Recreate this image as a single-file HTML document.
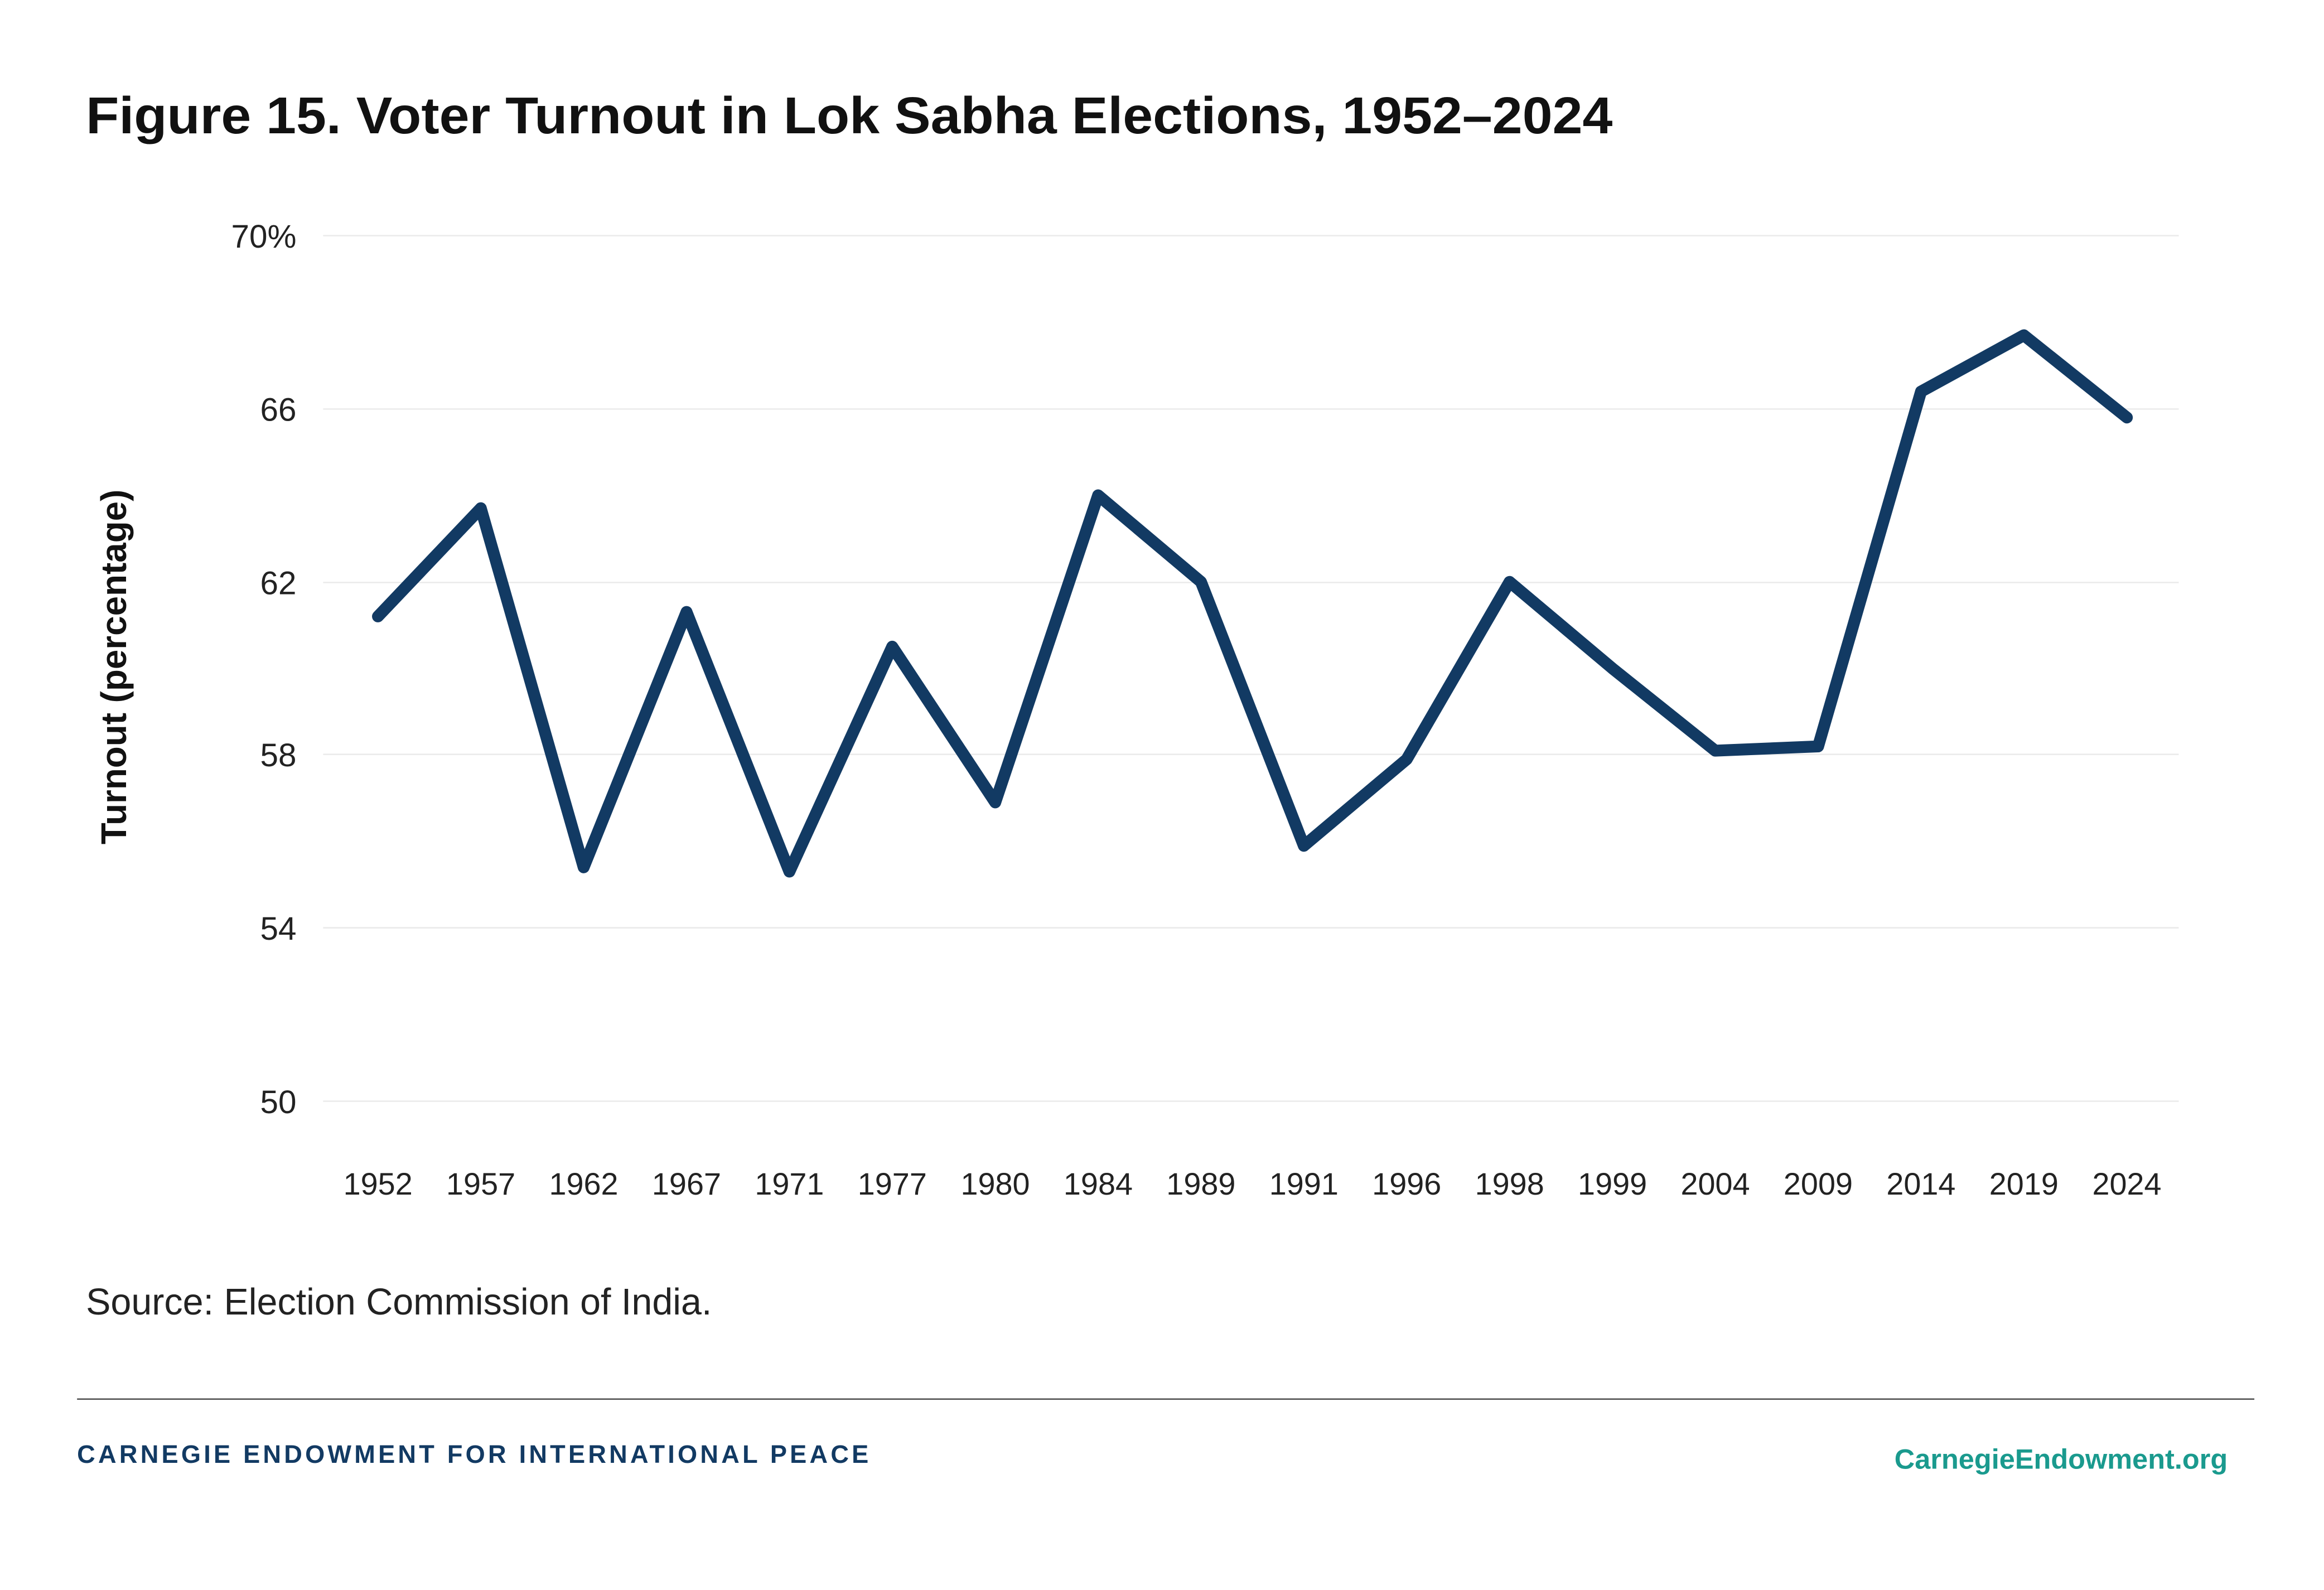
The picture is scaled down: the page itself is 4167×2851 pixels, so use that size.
<!DOCTYPE html>
<html><head><meta charset="utf-8"><style>
html,body{margin:0;padding:0;background:#fff;}
svg{display:block;}
text{font-family:"Liberation Sans",sans-serif;}
</style></head><body>
<svg width="4167" height="2851" viewBox="0 0 1568 1072.8" preserveAspectRatio="none" xmlns="http://www.w3.org/2000/svg">
<rect width="1580" height="1080" fill="#fff"/>
<text x="58" y="90" font-size="35" font-weight="bold" fill="#111" textLength="1030" lengthAdjust="spacingAndGlyphs">Figure 15. Voter Turnout in Lok Sabha Elections, 1952–2024</text>
<g stroke="#ebebeb" stroke-width="1">
<line x1="218" y1="159" x2="1470" y2="159"/>
<line x1="218" y1="276" x2="1470" y2="276"/>
<line x1="218" y1="393" x2="1470" y2="393"/>
<line x1="218" y1="509" x2="1470" y2="509"/>
<line x1="218" y1="626" x2="1470" y2="626"/>
<line x1="218" y1="743" x2="1470" y2="743"/>
</g>
<g font-size="22" fill="#222" text-anchor="end">
<text x="200" y="167">70%</text>
<text x="200" y="284">66</text>
<text x="200" y="401">62</text>
<text x="200" y="517">58</text>
<text x="200" y="634">54</text>
<text x="200" y="751">50</text>
</g>
<text transform="translate(85,450) rotate(-90)" font-size="24" font-weight="bold" fill="#111" text-anchor="middle">Turnout (percentage)</text>
<g font-size="21" fill="#222" text-anchor="middle">
<text x="255" y="806">1952</text><text x="324.4" y="806">1957</text><text x="393.8" y="806">1962</text><text x="463.2" y="806">1967</text><text x="532.6" y="806">1971</text><text x="602" y="806">1977</text><text x="671.5" y="806">1980</text><text x="740.9" y="806">1984</text><text x="810.3" y="806">1989</text><text x="879.7" y="806">1991</text><text x="949.1" y="806">1996</text><text x="1018.5" y="806">1998</text><text x="1087.9" y="806">1999</text><text x="1157.3" y="806">2004</text><text x="1226.7" y="806">2009</text><text x="1296.1" y="806">2014</text><text x="1365.5" y="806">2019</text><text x="1435" y="806">2024</text>
</g>
<polyline fill="none" stroke="#123a63" stroke-width="8" stroke-linejoin="round" stroke-linecap="round"
points="255,415.9 324.4,342.9 393.8,585.2 463.2,412.9 532.6,588.1 602,436.3 671.5,541.4 740.9,334.2 810.3,392.6 879.7,570.7 949.1,512.3 1018.5,392.6 1087.9,451 1157.3,506.5 1226.7,503.6 1296.1,264.2 1365.5,226.2 1435,281.7"/>
<text x="58" y="887" font-size="25" fill="#222">Source: Election Commission of India.</text>
<line x1="52" y1="944" x2="1521" y2="944" stroke="#555" stroke-width="1"/>
<text x="52" y="987" font-size="17" font-weight="bold" fill="#123a63" textLength="534" lengthAdjust="spacing">CARNEGIE ENDOWMENT FOR INTERNATIONAL PEACE</text>
<text x="1503" y="991" font-size="19" font-weight="bold" fill="#1a9a8e" text-anchor="end">CarnegieEndowment.org</text>
</svg>
</body></html>
